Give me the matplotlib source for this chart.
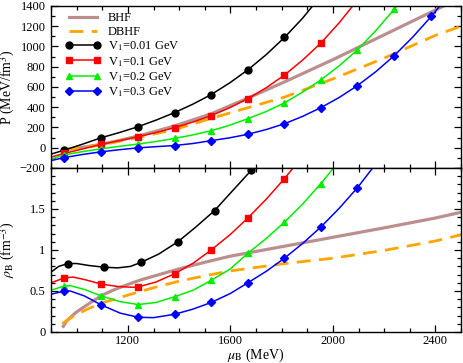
import matplotlib
matplotlib.use('Agg')
import matplotlib.pyplot as plt
from matplotlib.ticker import MultipleLocator, FixedLocator

# 1. Data
# marker positions (mu_B in MeV)
mu_pts = [952, 1096, 1240, 1382, 1525, 1668, 1811, 1953, 2096, 2240, 2384]
mu_pts_black_rho = [965, 1108, 1252, 1395, 1538, 1681]

# pressure markers (MeV/fm^3)
p_v001 = [-23, 99, 208, 347, 525, 769, 1089]
p_v01 = [-56, 34, 109, 198, 317, 484, 718, 1034]
p_v02 = [-70, -10, 37, 92, 168, 287, 443, 670, 967, 1370]
p_v03 = [-97, -40, -1, 22, 70, 133, 237, 396, 614, 911, 1297]

# pressure curves
mu_line = [900, 952, 1024, 1096, 1168, 1240, 1311, 1382, 1454, 1525, 1597,
           1668, 1740, 1811, 1882, 1953, 2025, 2096, 2168, 2240, 2312, 2384, 2430]
p_line_v001 = [-63, -23, 36, 99, 151, 208, 274, 347, 431, 525, 640,
               769, 920, 1089, 1280, 1500]
p_line_v01 = [-92, -56, -12, 34, 70, 109, 151, 198, 254, 317, 395,
              484, 593, 718, 866, 1034, 1235, 1460]
p_line_v02 = [-114, -70, -38, -10, 14, 37, 62, 92, 127, 168, 222,
              287, 358, 443, 550, 670, 810, 967, 1158, 1370, 1600]
p_line_v03 = [-127, -97, -66, -40, -19, -1, 11, 22, 42, 70, 98,
              133, 180, 237, 310, 396, 497, 614, 752, 911, 1094, 1297, 1440]

mu_bhf_p = [950, 1000, 1100, 1240, 1382, 1525, 1668, 1811, 2000, 2200, 2400, 2440]
p_bhf = [-20, -5, 35, 115, 215, 335, 490, 650, 870, 1115, 1360, 1410]
mu_dbhf_p = [955, 1000, 1100, 1240, 1382, 1525, 1668, 1811, 2000, 2200, 2400, 2500]
p_dbhf = [-20, -5, 30, 100, 180, 290, 395, 500, 680, 885, 1110, 1200]

# baryon density markers (fm^-3)
rho_v001 = [0.834, 0.79, 0.85, 1.10, 1.48, 1.97]
rho_v01 = [0.66, 0.585, 0.55, 0.71, 1.00, 1.39, 1.87]
rho_v02 = [0.56, 0.44, 0.335, 0.43, 0.63, 0.96, 1.34, 1.81]
rho_v03 = [0.50, 0.33, 0.18, 0.216, 0.36, 0.60, 0.90, 1.28, 1.76]

# baryon density curves
mu_rho_v001 = [900, 930, 965, 1000, 1050, 1108, 1160, 1210, 1252, 1320, 1395,
               1465, 1538, 1599, 1681, 1710]
rho_line_v001 = [0.73, 0.80, 0.834, 0.835, 0.81, 0.79, 0.782, 0.80, 0.85, 0.95, 1.10,
                 1.28, 1.48, 1.69, 1.97, 2.08]
mu_rho_v01 = [900, 952, 985, 1030, 1096, 1160, 1220, 1240, 1310, 1382, 1455,
              1525, 1600, 1668, 1740, 1811, 1860]
rho_line_v01 = [0.60, 0.66, 0.67, 0.64, 0.585, 0.555, 0.545, 0.55, 0.61, 0.71, 0.84,
                1.00, 1.19, 1.39, 1.62, 1.87, 2.06]
mu_rho_v02 = [900, 952, 975, 1030, 1096, 1170, 1240, 1310, 1382, 1455, 1525,
              1600, 1668, 1740, 1811, 1882, 1953, 2000]
rho_line_v02 = [0.51, 0.56, 0.565, 0.52, 0.44, 0.37, 0.335, 0.36, 0.43, 0.51, 0.63,
                0.77, 0.96, 1.14, 1.34, 1.56, 1.81, 1.99]
mu_rho_v03 = [900, 952, 975, 1030, 1096, 1170, 1240, 1300, 1382, 1455, 1525,
              1600, 1668, 1740, 1811, 1882, 1953, 2025, 2096, 2160]
rho_line_v03 = [0.46, 0.50, 0.50, 0.44, 0.33, 0.23, 0.18, 0.175, 0.216, 0.28, 0.36,
                0.47, 0.60, 0.74, 0.90, 1.08, 1.28, 1.51, 1.76, 2.02]

mu_bhf_rho = [948, 960, 980, 1000, 1050, 1100, 1150, 1200, 1250, 1300, 1400,
              1500, 1600, 1800, 2000, 2200, 2400, 2500]
rho_bhf = [0.07, 0.13, 0.19, 0.245, 0.35, 0.45, 0.52, 0.58, 0.635, 0.68, 0.77,
           0.85, 0.925, 1.04, 1.155, 1.27, 1.39, 1.46]
mu_dbhf_rho = [944, 970, 1000, 1050, 1100, 1200, 1300, 1400, 1500, 1600, 1800,
               2000, 2200, 2400, 2500]
rho_dbhf = [0.10, 0.16, 0.215, 0.29, 0.355, 0.45, 0.54, 0.62, 0.685, 0.745, 0.83,
            0.90, 0.995, 1.11, 1.185]

labels = ['V$_1$=0.01 GeV', 'V$_1$=0.1 GeV', 'V$_1$=0.2 GeV', 'V$_1$=0.3 GeV']
colors = ['black', '#ff0000', '#00ee00', '#0000ff']
markers = ['o', 's', '^', 'D']

# 2. Style
plt.rcParams['font.family'] = ['Liberation Serif', 'DejaVu Serif']
plt.rcParams['mathtext.fontset'] = 'stix'
plt.rcParams['font.size'] = 9

fig = plt.figure(figsize=(4.63, 3.63), dpi=100)
ax1 = fig.add_axes([0.1102, 0.5372, 0.8855, 0.4463])
ax2 = fig.add_axes([0.1102, 0.0854, 0.8855, 0.4518], sharex=ax1)

bhf_color = '#bc8f8f'
dbhf_color = '#ffa500'

# 3. Top panel: pressure
ax1.plot(mu_bhf_p, p_bhf, color=bhf_color, lw=2.3, label='BHF')
ax1.plot(mu_dbhf_p, p_dbhf, color=dbhf_color, lw=2, dashes=(5, 3), label='DBHF')

p_lines = [p_line_v001, p_line_v01, p_line_v02, p_line_v03]
p_marks = [p_v001, p_v01, p_v02, p_v03]
for pl, pm, c, m in zip(p_lines, p_marks, colors, markers):
    ax1.plot(mu_line[:len(pl)], pl, color=c, lw=1.1)
    ax1.plot(mu_pts[:len(pm)], pm, color=c, ls='none', marker=m, ms=5 if m != 'D' else 4.5)

# legend handles: line with a marker at each end
handles, hl = ax1.get_legend_handles_labels()
proxies = handles[:2]
for c, m in zip(colors, markers):
    proxies.append(plt.Line2D([], [], color=c, lw=1.1, marker=m, ms=5 if m != 'D' else 4.5))
ax1.legend(proxies, ['BHF', 'DBHF'] + labels, loc='upper left', bbox_to_anchor=(0.035, 0.96),
           frameon=False, numpoints=2, handlelength=2.8, handletextpad=0.6,
           labelspacing=0.12, borderpad=0, borderaxespad=0, fontsize=9)

ax1.set_ylim(-200, 1400)
ax1.set_xlim(900, 2500)
ax1.yaxis.set_major_locator(MultipleLocator(200))
ax1.yaxis.set_minor_locator(MultipleLocator(100))
ax1.set_ylabel('P (MeV/fm$^3$)', fontsize=10)
plt.setp(ax1.get_xticklabels(), visible=False)

# 4. Bottom panel: baryon density
ax2.plot(mu_bhf_rho, rho_bhf, color=bhf_color, lw=2.3)
ax2.plot(mu_dbhf_rho, rho_dbhf, color=dbhf_color, lw=2, dashes=(5, 3))

rho_mus = [mu_rho_v001, mu_rho_v01, mu_rho_v02, mu_rho_v03]
rho_lines = [rho_line_v001, rho_line_v01, rho_line_v02, rho_line_v03]
rho_marks = [rho_v001, rho_v01, rho_v02, rho_v03]
rho_mark_mu = [mu_pts_black_rho, mu_pts, mu_pts, mu_pts]
for mu_l, rl, mu_m, rm, c, m in zip(rho_mus, rho_lines, rho_mark_mu, rho_marks, colors, markers):
    ax2.plot(mu_l, rl, color=c, lw=1.1)
    ax2.plot(mu_m[:len(rm)], rm, color=c, ls='none', marker=m, ms=5 if m != 'D' else 4.5)

ax2.set_ylim(0, 2)
ax2.yaxis.set_major_locator(FixedLocator([0, 0.5, 1, 1.5]))
ax2.yaxis.set_minor_locator(MultipleLocator(0.1))
ax2.set_yticklabels(['0', '0.5', '1', '1.5'])
ax2.xaxis.set_major_locator(MultipleLocator(400))
ax2.xaxis.set_minor_locator(MultipleLocator(100))
ax2.set_ylabel(r'$\rho_\mathrm{B}$ (fm$^{-3}$)', fontsize=10)
ax2.set_xlabel(r'$\mu_\mathrm{B}$ (MeV)', fontsize=10)

for ax in (ax1, ax2):
    ax.tick_params(which='both', direction='in', top=True, right=True)
    ax.tick_params(axis='y', pad=4)
    ax.tick_params(axis='x', pad=2.5)
    ax.tick_params(which='major', length=5, width=0.9)
    ax.tick_params(which='minor', length=3, width=0.9)
    for s in ax.spines.values():
        s.set_linewidth(1.0)

ax1.yaxis.set_label_coords(-0.083, 0.5)
ax2.yaxis.set_label_coords(-0.083, 0.5)
ax2.xaxis.set_label_coords(0.5, -0.092)

fig.savefig('out.png', dpi=100)
